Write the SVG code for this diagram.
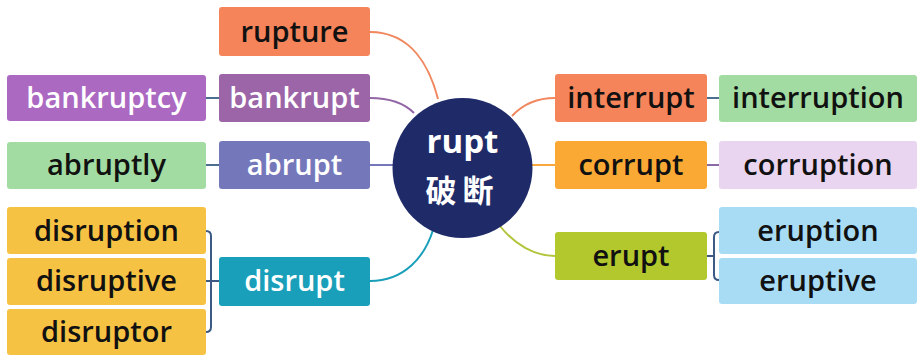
<svg xmlns="http://www.w3.org/2000/svg" width="917" height="355" viewBox="0 0 917 355">
<style>
.b{stroke:none}
.t{font-family:"Open Sans","Liberation Sans",sans-serif;font-weight:600;font-size:29px;text-anchor:middle}
.w{fill:#ffffff}
.k{fill:#111111}
.c{fill:none;stroke-width:2}
</style>
<rect width="917" height="355" fill="#ffffff"/>
<g id="connectors">
<path class="c" stroke="#f0875e" d="M370,32 C412,32 430,68 438,99"/>
<path class="c" stroke="#9366a6" d="M370,98 C392,98 405,104 414,113"/>
<path class="c" stroke="#7478bb" d="M370,165 L394,165"/>
<path class="c" stroke="#1a9fba" d="M370,281 C405,281 425,256 433,230"/>
<path class="c" stroke="#f0875e" d="M512,116 C524,103 540,98 555,98"/>
<path class="c" stroke="#f7a640" d="M531,165 L555,165"/>
<path class="c" stroke="#b3c43a" d="M500,226 C515,245 535,256 555,256"/>
<path class="c" stroke="#4d6f8f" d="M206,98 L219,98"/>
<path class="c" stroke="#4d6f8f" d="M206,165 L219,165"/>
<path class="c" stroke="#4d6f8f" d="M707,98 L719,98"/>
<path class="c" stroke="#8a6aa3" d="M707,165 L719,165"/>
<path class="c" stroke="#3d5a85" d="M206,231 Q211,231 211,236 L211,327 Q211,332 206,332 M206,281 L219,281"/>
<path class="c" stroke="#3d5a85" d="M719,232 Q714,232 714,237 L714,275 Q714,280 719,280 M707,256 L714,256"/>
</g>
<g id="center">
<circle cx="462.5" cy="168" r="70" fill="#1f2a68"/>
<text x="462.5" y="153" class="t w" style="font-size:33px;font-weight:700">rupt</text>
<text x="462.5" y="202" class="w" style="font-family:'Noto Sans CJK SC',sans-serif;font-weight:700;font-size:31px;text-anchor:middle;letter-spacing:6px">破断</text>
</g>
<g id="rupture"><rect x="219" y="7" width="151" height="49" rx="3" fill="#f5845a"/><text x="294.5" y="42" class="t k">rupture</text></g>
<g id="bankrupt"><rect x="219" y="74" width="151" height="48" rx="3" fill="#9b65a8"/><text x="294.5" y="108" class="t w">bankrupt</text></g>
<g id="bankruptcy"><rect x="7" y="75" width="199" height="46" rx="3" fill="#ab69c2"/><text x="106.5" y="108" class="t w">bankruptcy</text></g>
<g id="abrupt"><rect x="219" y="141" width="151" height="48" rx="3" fill="#7478bb"/><text x="294.5" y="175" class="t w">abrupt</text></g>
<g id="abruptly"><rect x="7" y="142" width="199" height="47" rx="3" fill="#a2dca2"/><text x="106.5" y="175" class="t k">abruptly</text></g>
<g id="disrupt"><rect x="219" y="257" width="151" height="49" rx="3" fill="#1a9fba"/><text x="294.5" y="291" class="t w">disrupt</text></g>
<g id="disruption"><rect x="7" y="207" width="199" height="47" rx="3" fill="#f6c244"/><text x="106.5" y="241" class="t k">disruption</text></g>
<g id="disruptive"><rect x="7" y="258" width="199" height="47" rx="3" fill="#f6c244"/><text x="106.5" y="291" class="t k">disruptive</text></g>
<g id="disruptor"><rect x="7" y="309" width="199" height="46" rx="3" fill="#f6c244"/><text x="106.5" y="342" class="t k">disruptor</text></g>
<g id="interrupt"><rect x="555" y="74" width="152" height="48" rx="3" fill="#f5845a"/><text x="631" y="108" class="t k">interrupt</text></g>
<g id="interruption"><rect x="719" y="75" width="198" height="47" rx="3" fill="#a2dca2"/><text x="818" y="108" class="t k">interruption</text></g>
<g id="corrupt"><rect x="555" y="141" width="152" height="48" rx="3" fill="#faa935"/><text x="631" y="175" class="t k">corrupt</text></g>
<g id="corruption"><rect x="719" y="141" width="198" height="48" rx="3" fill="#e9d5ef"/><text x="818" y="175" class="t k">corruption</text></g>
<g id="erupt"><rect x="555" y="232" width="152" height="48" rx="3" fill="#b2c82c"/><text x="631" y="266" class="t k">erupt</text></g>
<g id="eruption"><rect x="719" y="207" width="198" height="47" rx="3" fill="#a8dcf5"/><text x="818" y="241" class="t k">eruption</text></g>
<g id="eruptive"><rect x="719" y="258" width="198" height="46" rx="3" fill="#a8dcf5"/><text x="818" y="291" class="t k">eruptive</text></g>
</svg>
